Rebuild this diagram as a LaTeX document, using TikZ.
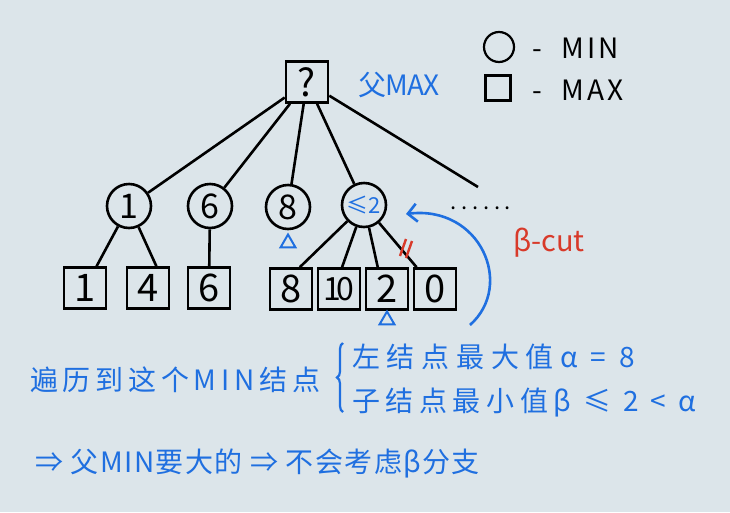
\documentclass[tikz,border=0pt]{standalone}
\usepackage{fontspec}
\setmainfont{Noto Sans CJK SC}
\newfontfamily\cjk{Noto Sans CJK SC}
\usetikzlibrary{shapes.geometric,arrows.meta,decorations.pathreplacing,calc}
\definecolor{paper}{HTML}{DCE5EA}
\definecolor{pen}{HTML}{1F6FE0}
\definecolor{redpen}{HTML}{D83A2A}
\newcommand{\spaced}[1]{\addfontfeatures{LetterSpace=#1}}
\tikzset{
  maxbox/.style={draw=black,line width=2.6pt,minimum width=42pt,minimum height=41pt,inner sep=0pt,font=\fontsize{38}{38}\selectfont},
  minnode/.style={draw=black,circle,line width=2.6pt,minimum size=44pt,inner sep=0pt,font=\fontsize{34}{34}\selectfont},
  edge/.style={line width=2.6pt,black},
  bluetxt/.style={text=pen,font=\fontsize{28}{28}\selectfont,inner sep=0pt},
  tri/.style={draw=pen,regular polygon,regular polygon sides=3,line width=2pt,minimum size=17pt,inner sep=0pt},
  legtxt/.style={font=\fontsize{28}{28}\selectfont,inner sep=0pt,anchor=west}
}
\begin{document}
\begin{tikzpicture}[x=1pt,y=-1pt]
\fill[paper] (0,0) rectangle (730,512);
\useasboundingbox (0,0) rectangle (730,512);
% legend
\node[draw,circle,line width=2.2pt,minimum size=30pt,inner sep=0pt] (lc) at (499,47) {};
\node[draw,line width=2.2pt,minimum size=25pt,inner sep=0pt] (ls) at (498,88) {};
\node[legtxt] (lmin) at (532,48) {\spaced{12}- \ MIN};
\node[legtxt] (lmax) at (532,90) {\spaced{12}- \ MAX};
% root
\node[maxbox] (root) at (307,82) {?};
\node[bluetxt,anchor=west] (fmax) at (358,85) {\spaced{-3}父MAX};
% MIN nodes
\node[minnode] (c1) at (129,206) {1};
\node[minnode] (c2) at (210,206) {6};
\node[minnode] (c3) at (288,207) {8};
\node[minnode,text=pen,font=\fontsize{22}{22}\selectfont] (c4) at (364,205) {≤2};
\coordinate (dotsend) at (478,187);
\node[inner sep=0pt,font=\fontsize{22}{22}\selectfont,anchor=west] (dots) at (450,208) {\spaced{22}......};
% leaves
\node[maxbox] (l1) at (85,288) {1};
\node[maxbox] (l2) at (148,288) {4};
\node[maxbox] (l3) at (209,288) {6};
\node[maxbox] (l4) at (291,289) {8};
\node[maxbox,font=\fontsize{32}{32}\selectfont] (l5) at (339,289) {\spaced{-14}10};
\node[maxbox] (l6) at (387,289) {2};
\node[maxbox] (l7) at (435,289) {0};
% edges
\draw[edge] (root) -- (c1);
\draw[edge] (root) -- (c2);
\draw[edge] (root) -- (c3);
\draw[edge] (root) -- (c4);
\draw[edge] (root) -- (dotsend);
\draw[edge] (c1) -- (l1.62);
\draw[edge] (c1) -- (l2.69);
\draw[edge] (c2) -- (l3);
\draw[edge] (c4) -- (l4.68);
\draw[edge] (c4) -- (l5.82);
\draw[edge] (c4) -- (l6.113);
\draw[edge] (c4) -- (l7);
% cut mark
\coordinate (cut) at (406,248);
\draw[redpen,line width=2.4pt] ($(cut)+(-6,8)$) -- ($(cut)+(0,-9)$);
\draw[redpen,line width=2.4pt] ($(cut)+(0,10)$) -- ($(cut)+(6,-7)$);
\node[text=redpen,font=\fontsize{29}{29}\selectfont,inner sep=0pt,anchor=west] (bcut) at (513,243) {β-cut};
% triangles
\node[tri] (t1) at (288,243) {};
\node[tri] (t2) at (387,320) {};
% blue arrow
\coordinate (astart) at (470,325);
\draw[pen,line width=2.6pt,-{Straight Barb[length=9pt,width=18pt]}] (astart) .. controls (515,285) and (480,205) .. (406,214);
% text block
\node[bluetxt,anchor=west] (trav) at (30,380) {\spaced{17}遍历到这个MIN结点};
\draw[pen,line width=2.2pt,decorate,decoration={brace,amplitude=6pt}] (343,412) -- (343,343);
\node[bluetxt,anchor=west] (line1) at (352,357) {\spaced{24}左结点最大值α = 8};
\node[bluetxt,anchor=west] (line2) at (352,403) {\spaced{20}子结点最小值β ≤ 2 < α};
\node[bluetxt,anchor=west] (line3) at (35,463) {\spaced{5}⇒ 父MIN要大的 ⇒ 不会考虑β分支};
\end{tikzpicture}
\end{document}
